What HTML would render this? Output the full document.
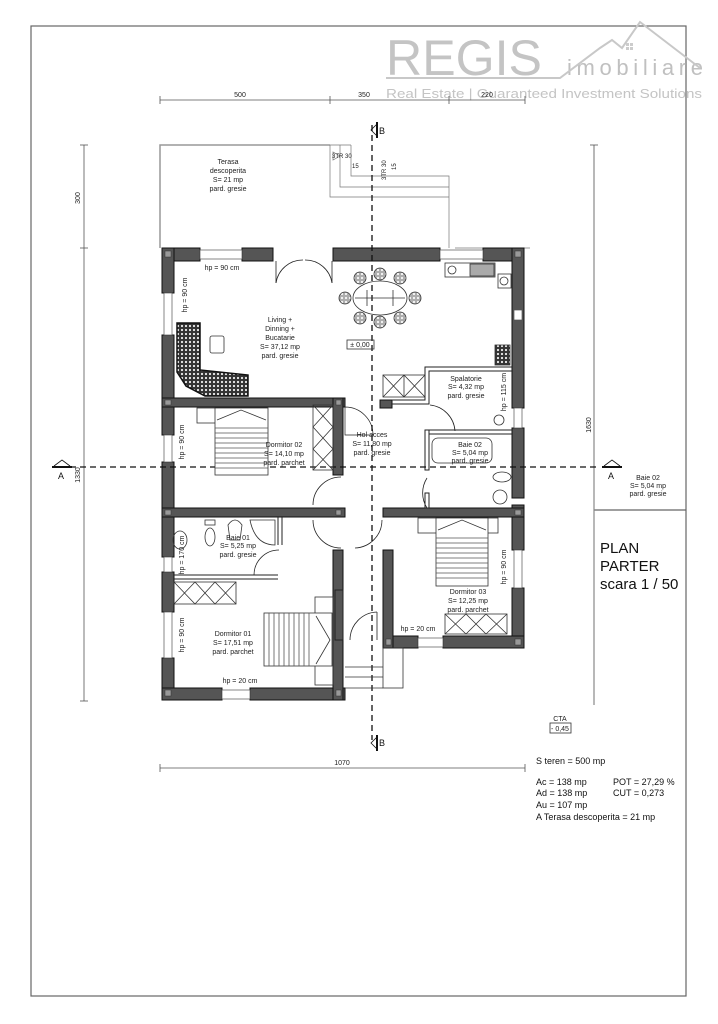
<!DOCTYPE html>
<html><head><meta charset="utf-8"><style>
html,body{margin:0;padding:0;background:#fff;}
svg{display:block;font-family:"Liberation Sans",sans-serif;}
</style></head><body>
<svg width="718" height="1024" viewBox="0 0 718 1024" xmlns="http://www.w3.org/2000/svg">
<defs>
<pattern id="dots" width="4" height="4" patternUnits="userSpaceOnUse"><rect width="4" height="4" fill="#333"/><circle cx="2" cy="2" r="1.1" fill="#eee"/></pattern>
</defs>
<rect x="0" y="0" width="718" height="1024" fill="#fff"/>
<!-- frame -->
<rect x="31" y="26" width="655" height="970" fill="none" stroke="#666" stroke-width="1.2"/>
<line x1="594" y1="510" x2="686" y2="510" stroke="#666" stroke-width="1.2"/>

<!-- logo -->
<text x="386" y="75" font-size="50" fill="#c4c4c4" textLength="156" lengthAdjust="spacingAndGlyphs">REGIS</text>
<text x="567" y="75" font-size="22" fill="#c0c0c0" textLength="136" lengthAdjust="spacing">imobiliare</text>
<text x="386" y="98" font-size="13" fill="#c4c4c4" textLength="316" lengthAdjust="spacingAndGlyphs">Real Estate | Guaranteed Investment Solutions</text>
<polyline points="386,78 560,78 600,48 612,40 622,48 640,22 700,68" fill="none" stroke="#c8c8c8" stroke-width="2"/>
<rect x="626" y="43" width="3" height="3" fill="#ccc"/><rect x="630" y="43" width="3" height="3" fill="#ccc"/><rect x="626" y="47" width="3" height="3" fill="#ccc"/><rect x="630" y="47" width="3" height="3" fill="#ccc"/>

<!-- dimension lines -->
<g stroke="#555" stroke-width="0.8" fill="none">
<line x1="160" y1="100" x2="525" y2="100"/>
<line x1="160" y1="96" x2="160" y2="104"/><line x1="330" y1="96" x2="330" y2="104"/><line x1="449" y1="96" x2="449" y2="104"/><line x1="525" y1="96" x2="525" y2="104"/>
<line x1="84" y1="145" x2="84" y2="701"/>
<line x1="80" y1="145" x2="88" y2="145"/><line x1="80" y1="248" x2="88" y2="248"/><line x1="80" y1="701" x2="88" y2="701"/>
<line x1="594" y1="145" x2="594" y2="705" stroke="#888" stroke-width="1.2"/>
<line x1="590" y1="145" x2="598" y2="145"/>
<line x1="160" y1="768" x2="525" y2="768"/>
<line x1="160" y1="764" x2="160" y2="772"/><line x1="525" y1="764" x2="525" y2="772"/>
</g>
<g font-size="7" fill="#222">
<text x="240" y="97" text-anchor="middle">500</text>
<text x="364" y="97" text-anchor="middle">350</text>
<text x="487" y="97" text-anchor="middle">220</text>
<text x="80" y="198" transform="rotate(-90 80 198)" text-anchor="middle">300</text>
<text x="80" y="475" transform="rotate(-90 80 475)" text-anchor="middle">1330</text>
<text x="591" y="425" transform="rotate(-90 591 425)" text-anchor="middle">1630</text>
<text x="342" y="765" text-anchor="middle">1070</text>
</g>

<!-- terrace -->
<g stroke="#999" stroke-width="1.5" fill="none">
<polyline points="160,248 160,145 330,145"/>
</g>
<g stroke="#777" stroke-width="0.7" fill="none">
<line x1="330" y1="145" x2="351" y2="145"/>
<polyline points="330,145 330,197 449,197"/>
<polyline points="340,145 340,187 449,187"/>
<polyline points="351,145 351,176 449,176 449,248"/>
<polygon points="333,152 333,160 340,156"/>
<line x1="455" y1="248" x2="530" y2="248"/>
</g>
<g font-size="6" fill="#222">
<text x="332" y="158">3TR 30</text><text x="352" y="168">15</text>
<text x="386" y="180" transform="rotate(-90 386 180)">3TR 30</text>
<text x="396" y="170" transform="rotate(-90 396 170)">15</text>
</g>
<g font-size="7" fill="#222" text-anchor="middle">
<text x="228" y="164">Terasa</text><text x="228" y="173">descoperita</text><text x="228" y="182">S= 21 mp</text><text x="228" y="191">pard. gresie</text>
</g>

<!-- WALLS exterior -->
<g fill="#555" stroke="#111" stroke-width="1">
<rect x="162" y="248" width="38" height="13"/>
<rect x="242" y="248" width="31" height="13"/>
<rect x="333" y="248" width="107" height="13"/>
<rect x="483" y="248" width="41" height="13"/>
<rect x="162" y="248" width="12" height="45"/>
<rect x="162" y="335" width="12" height="100"/>
<rect x="162" y="462" width="12" height="95"/>
<rect x="162" y="572" width="12" height="40"/>
<rect x="162" y="658" width="12" height="42"/>
<rect x="512" y="248" width="12" height="160"/>
<rect x="512" y="428" width="12" height="70"/>
<rect x="512" y="505" width="12" height="45"/>
<rect x="512" y="588" width="12" height="60"/>
<rect x="162" y="688" width="60" height="12"/>
<rect x="250" y="688" width="95" height="12"/>
<rect x="383" y="636" width="35" height="12"/>
<rect x="443" y="636" width="81" height="12"/>
<rect x="162" y="398" width="183" height="9"/>
<rect x="333" y="398" width="10" height="77"/>
<rect x="162" y="508" width="183" height="9"/>
<rect x="333" y="550" width="10" height="150"/>
<rect x="383" y="508" width="141" height="9"/>
<rect x="383" y="550" width="10" height="98"/>
<rect x="380" y="400" width="12" height="8"/>
</g>
<g fill="#fff" stroke="#555" stroke-width="0.7">
<rect x="200" y="250" width="42" height="9"/>
<rect x="440" y="250" width="43" height="9"/>
<rect x="164" y="293" width="8" height="42"/>
<rect x="164" y="435" width="8" height="27"/>
<rect x="164" y="557" width="8" height="15"/>
<rect x="164" y="612" width="8" height="46"/>
<rect x="514" y="408" width="8" height="20"/>
<rect x="514" y="550" width="8" height="38"/>
<rect x="222" y="690" width="28" height="9"/>
<rect x="418" y="638" width="25" height="9"/>
<rect x="514" y="310" width="8" height="10"/>
</g>
<g fill="#999" stroke="#333" stroke-width="0.5">
<rect x="165" y="251" width="6" height="6"/><rect x="515" y="251" width="6" height="6"/>
<rect x="165" y="400" width="6" height="5"/><rect x="336" y="400" width="5" height="5"/>
<rect x="165" y="510" width="6" height="5"/><rect x="336" y="510" width="5" height="5"/>
<rect x="515" y="510" width="6" height="5"/><rect x="165" y="690" width="6" height="6"/>
<rect x="336" y="690" width="5" height="6"/><rect x="515" y="639" width="6" height="6"/>
<rect x="386" y="639" width="5" height="6"/>
</g>
<g fill="none" stroke="#222" stroke-width="1">
<polyline points="392,400 425,400 425,367 512,367"/>
<polyline points="392,404 429,404 429,371 512,371"/>
<line x1="429" y1="430" x2="512" y2="430"/><line x1="429" y1="434" x2="512" y2="434"/>
<rect x="425" y="430" width="4" height="40"/>
<rect x="425" y="493" width="4" height="15"/>
<polyline points="278,517 278,545"/><line x1="282" y1="517" x2="282" y2="545"/>
<line x1="174" y1="575" x2="278" y2="575"/><line x1="174" y1="579" x2="278" y2="579"/>
<rect x="335" y="590" width="8" height="50"/>
</g>
<g fill="none" stroke="#222" stroke-width="0.8">
<path d="M276,283 A27,27 0 0 1 303,260"/><path d="M332,283 A27,27 0 0 0 305,260"/>
<line x1="276" y1="261" x2="276" y2="283"/><line x1="332" y1="261" x2="332" y2="283"/>
<path d="M345,435 L345,407 A28,28 0 0 1 373,435 Z" stroke-width="0.7"/>
<path d="M313,505 A28,28 0 0 1 341,477"/>
<path d="M313,520 A28,28 0 0 0 341,548"/>
<path d="M382,520 A28,28 0 0 1 355,548"/>
<path d="M430,405 A28,28 0 0 1 455,431"/>
<path d="M427,508 A28,28 0 0 1 427,478"/>
<path d="M254,575 A25,25 0 0 1 279,550"/>
<path d="M350,640 A28,28 0 0 1 377,612"/><line x1="377" y1="612" x2="377" y2="640"/>
</g>
<g stroke="#111" stroke-width="1.3" stroke-dasharray="6,4" fill="none">
<line x1="60" y1="467" x2="600" y2="467"/>
<line x1="372" y1="125" x2="372" y2="740"/>
</g>
<g stroke="#111" fill="none" stroke-width="0.8">
<path d="M377,124 L371,130 L377,136"/><line x1="377" y1="122" x2="377" y2="138" stroke-width="2"/>
<path d="M377,737 L371,743 L377,749"/><line x1="377" y1="735" x2="377" y2="751" stroke-width="2"/>
<path d="M54,466 L62,460 L70,466"/><line x1="52" y1="467" x2="72" y2="467" stroke-width="2"/>
<path d="M604,466 L612,460 L620,466"/><line x1="602" y1="467" x2="622" y2="467" stroke-width="2"/>
</g>
<g font-size="9" fill="#111">
<text x="379" y="134">B</text><text x="379" y="746">B</text>
<text x="58" y="479">A</text><text x="608" y="479">A</text>
</g>
<g fill="none" stroke="#333" stroke-width="0.8">
<ellipse cx="380" cy="298" rx="27" ry="17"/>
<line x1="355" y1="298" x2="405" y2="298"/><line x1="367" y1="290" x2="367" y2="306"/><line x1="393" y1="290" x2="393" y2="306"/>
<circle cx="360" cy="278" r="6" fill="url(#dots)" fill-opacity="0.4"/><circle cx="380" cy="274" r="6" fill="url(#dots)" fill-opacity="0.4"/><circle cx="400" cy="278" r="6" fill="url(#dots)" fill-opacity="0.4"/>
<circle cx="360" cy="318" r="6" fill="url(#dots)" fill-opacity="0.4"/><circle cx="380" cy="322" r="6" fill="url(#dots)" fill-opacity="0.4"/><circle cx="400" cy="318" r="6" fill="url(#dots)" fill-opacity="0.4"/>
<circle cx="345" cy="298" r="6" fill="url(#dots)" fill-opacity="0.4"/><circle cx="415" cy="298" r="6" fill="url(#dots)" fill-opacity="0.4"/>
<path d="M177,323 L200,323 L200,370 L248,375 L248,396 L205,396 L186,386 L177,372 Z" fill="url(#dots)" stroke="#111" stroke-width="1.5"/>
<rect x="210" y="336" width="14" height="17" rx="2"/>
<rect x="197" y="408" width="70" height="15"/>
<rect x="215" y="408" width="53" height="67" fill="#fff"/>
<g stroke="#555"><line x1="215" y1="428" x2="268" y2="428"/><line x1="215" y1="433" x2="268" y2="433"/><line x1="215" y1="438" x2="268" y2="438"/><line x1="215" y1="443" x2="268" y2="443"/><line x1="215" y1="448" x2="268" y2="448"/><line x1="215" y1="453" x2="268" y2="453"/><line x1="215" y1="458" x2="268" y2="458"/><line x1="215" y1="463" x2="268" y2="463"/><line x1="215" y1="468" x2="268" y2="468"/></g>
<path d="M217,420 L241,410 L266,420"/>
<rect x="313" y="405" width="20" height="65"/>
<path d="M313,405 L333,427 M333,405 L313,427 M313,427 L333,449 M333,427 L313,449 M313,449 L333,470 M333,449 L313,470"/>
<rect x="383" y="375" width="42" height="22"/>
<path d="M383,375 L404,397 M404,375 L383,397 M404,375 L425,397 M425,375 L404,397"/>
<line x1="404" y1="375" x2="404" y2="397"/>
<circle cx="499" cy="420" r="5"/>
<rect x="495" y="345" width="15" height="20" fill="url(#dots)"/>
<rect x="445" y="263" width="50" height="14"/><circle cx="452" cy="270" r="4"/>
<rect x="470" y="264" width="24" height="12" fill="#aaa"/>
<rect x="498" y="274" width="13" height="14"/><circle cx="504" cy="281" r="4"/>
<rect x="432" y="438" width="60" height="25" rx="6"/>
<ellipse cx="502" cy="477" rx="9" ry="5"/><circle cx="500" cy="497" r="7"/>
<ellipse cx="210" cy="537" rx="5" ry="9"/><rect x="205" y="520" width="10" height="5"/>
<path d="M228,525 Q235,515 242,525 L240,540 L230,540 Z"/>
<path d="M250,520 L275,520 L275,545 Q255,545 250,520 Z"/>
<ellipse cx="180" cy="540" rx="7" ry="9"/>
<rect x="174" y="582" width="62" height="22"/>
<path d="M174,582 L195,604 M195,582 L174,604 M195,582 L215,604 M215,582 L195,604 M215,582 L236,604 M236,582 L215,604"/>
<rect x="315" y="597" width="18" height="88"/>
<rect x="264" y="613" width="68" height="53" fill="#fff"/>
<g stroke="#555"><line x1="269" y1="613" x2="269" y2="666"/><line x1="274" y1="613" x2="274" y2="666"/><line x1="279" y1="613" x2="279" y2="666"/><line x1="284" y1="613" x2="284" y2="666"/><line x1="289" y1="613" x2="289" y2="666"/><line x1="294" y1="613" x2="294" y2="666"/><line x1="299" y1="613" x2="299" y2="666"/><line x1="304" y1="613" x2="304" y2="666"/><line x1="309" y1="613" x2="309" y2="666"/></g>
<path d="M316,616 L330,640 L316,664"/>
<rect x="418" y="518" width="80" height="15"/>
<rect x="436" y="518" width="52" height="68" fill="#fff"/>
<g stroke="#555"><line x1="436" y1="538" x2="488" y2="538"/><line x1="436" y1="543" x2="488" y2="543"/><line x1="436" y1="548" x2="488" y2="548"/><line x1="436" y1="553" x2="488" y2="553"/><line x1="436" y1="558" x2="488" y2="558"/><line x1="436" y1="563" x2="488" y2="563"/><line x1="436" y1="568" x2="488" y2="568"/><line x1="436" y1="573" x2="488" y2="573"/><line x1="436" y1="578" x2="488" y2="578"/></g>
<path d="M438,530 L462,520 L486,530"/>
<rect x="445" y="614" width="62" height="20"/>
<path d="M445,614 L466,634 M466,614 L445,634 M466,614 L486,634 M486,614 L466,634 M486,614 L507,634 M507,614 L486,634"/>
<rect x="383" y="648" width="20" height="40"/>
<line x1="345" y1="667" x2="383" y2="667"/><line x1="345" y1="677" x2="383" y2="677"/><line x1="345" y1="688" x2="383" y2="688"/>
<rect x="347" y="340" width="27" height="9"/>
<rect x="550" y="723" width="21" height="10"/>
</g>
<g font-size="7" fill="#222" text-anchor="middle">
<text x="280" y="322">Living +</text><text x="280" y="331">Dinning +</text><text x="280" y="340">Bucatarie</text><text x="280" y="349">S= 37,12 mp</text><text x="280" y="358">pard. gresie</text>
<text x="360" y="347">± 0,00</text>
<text x="466" y="381">Spalatorie</text><text x="466" y="389">S= 4,32 mp</text><text x="466" y="398">pard. gresie</text>
<text x="284" y="447">Dormitor 02</text><text x="284" y="456">S= 14,10 mp</text><text x="284" y="465">pard. parchet</text>
<text x="372" y="437">Hol acces</text><text x="372" y="446">S= 11,80 mp</text><text x="372" y="455">pard. gresie</text>
<text x="470" y="447">Baie 02</text><text x="470" y="455">S= 5,04 mp</text><text x="470" y="463">pard. gresie</text>
<text x="238" y="540">Baie 01</text><text x="238" y="548">S= 5,25 mp</text><text x="238" y="557">pard. gresie</text>
<text x="233" y="636">Dormitor 01</text><text x="233" y="645">S= 17,51 mp</text><text x="233" y="654">pard. parchet</text>
<text x="468" y="594">Dormitor 03</text><text x="468" y="603">S= 12,25 mp</text><text x="468" y="612">pard. parchet</text>
<text x="240" y="683">hp = 20 cm</text><text x="418" y="631">hp = 20 cm</text>
<text x="222" y="270">hp = 90 cm</text>
<text x="648" y="480">Baie 02</text><text x="648" y="488">S= 5,04 mp</text><text x="648" y="496">pard. gresie</text>
<text x="560" y="721">CTA</text><text x="560" y="731">- 0,45</text>
</g>
<g font-size="7" fill="#222" text-anchor="middle">
<text x="187" y="295" transform="rotate(-90 187 295)">hp = 90 cm</text>
<text x="184" y="442" transform="rotate(-90 184 442)">hp = 90 cm</text>
<text x="184" y="555" transform="rotate(-90 184 555)">hp = 170 cm</text>
<text x="184" y="635" transform="rotate(-90 184 635)">hp = 90 cm</text>
<text x="506" y="567" transform="rotate(-90 506 567)">hp = 90 cm</text>
<text x="506" y="392" transform="rotate(-90 506 392)">hp = 115 cm</text>
</g>
<g font-size="15" fill="#111">
<text x="600" y="553">PLAN</text><text x="600" y="571">PARTER</text><text x="600" y="589">scara 1 / 50</text>
</g>
<g font-size="9" fill="#111">
<text x="536" y="764">S teren = 500 mp</text>
<text x="536" y="785">Ac  = 138 mp</text><text x="613" y="785">POT = 27,29 %</text>
<text x="536" y="796">Ad  = 138 mp</text><text x="613" y="796">CUT = 0,273</text>
<text x="536" y="808">Au =  107 mp</text>
<text x="536" y="820">A  Terasa descoperita = 21 mp</text>
</g>
</svg>
</body></html>
